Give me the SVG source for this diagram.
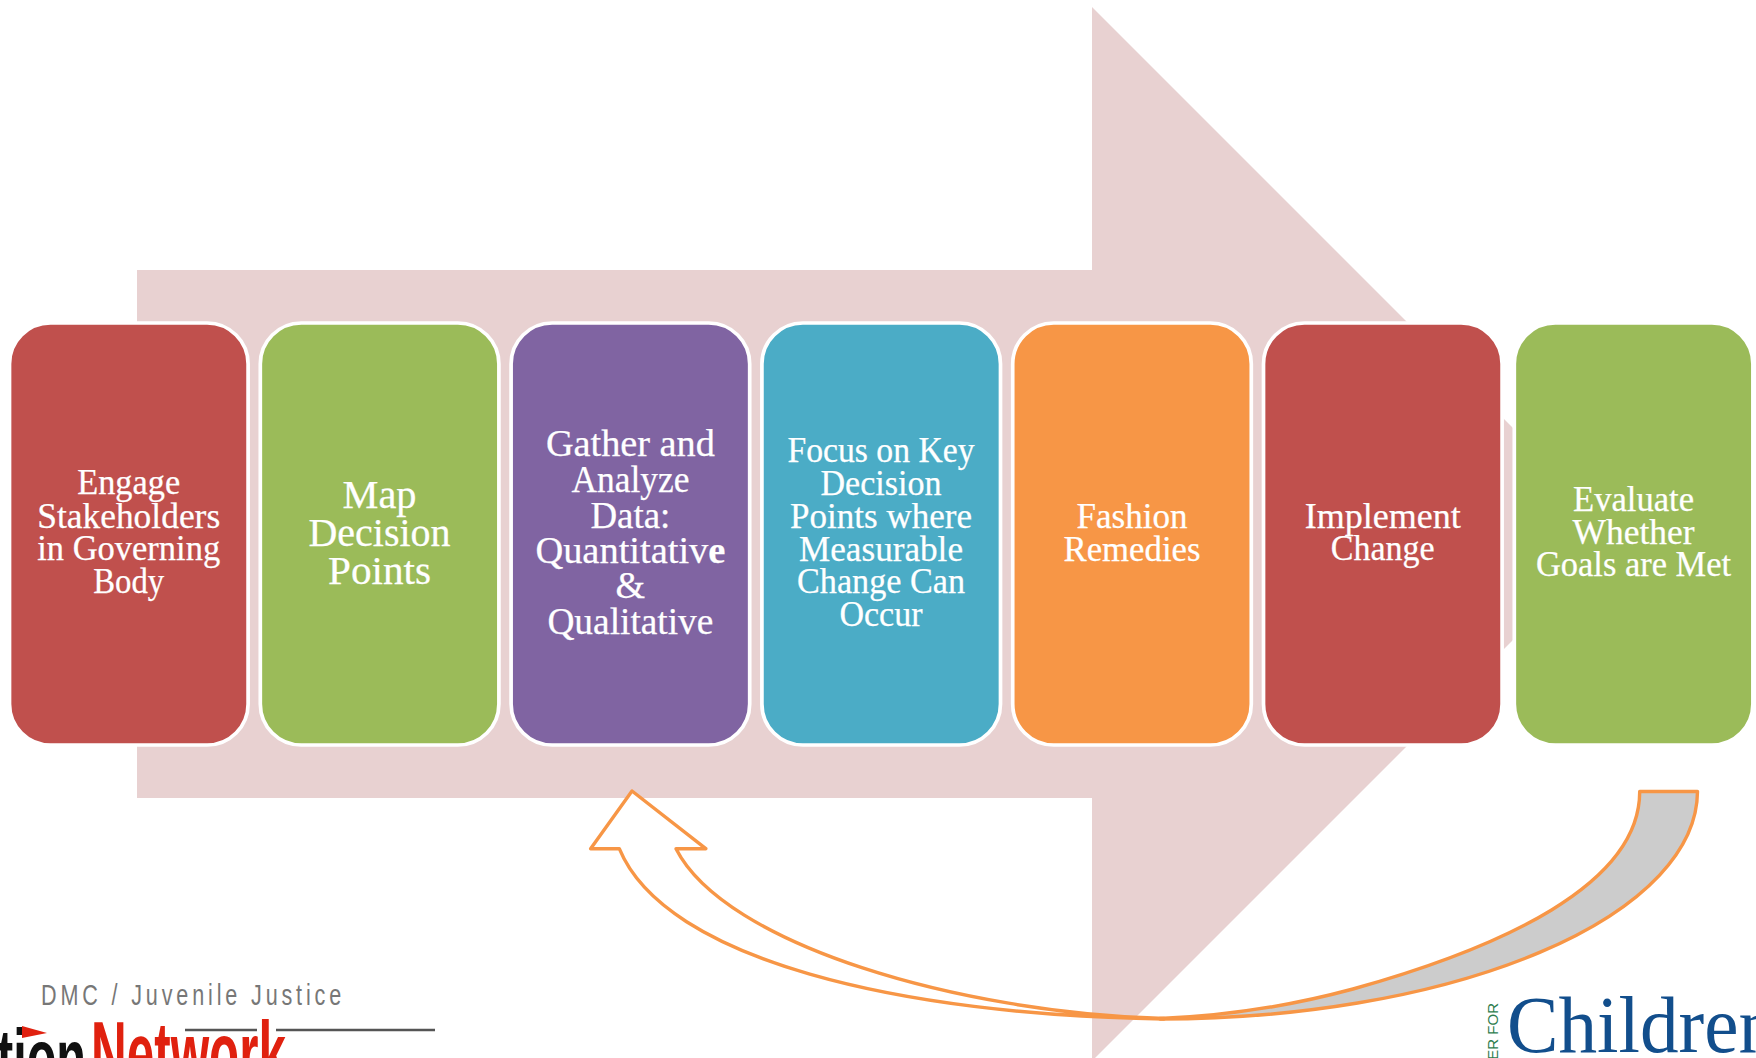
<svg xmlns="http://www.w3.org/2000/svg" width="1756" height="1058" viewBox="0 0 1756 1058">
<style>
.box{stroke:#fff;stroke-width:3.7}
.t{font-family:"Liberation Serif",serif;fill:#fff;text-anchor:middle;font-size:35px;stroke:#fff;stroke-width:.25;transform:translateY(1px)}
.big{font-size:40px}
.mid{font-size:38px}
.fb{stroke:#f79646;stroke-width:3.4;stroke-linejoin:round}
</style>
<rect width="1756" height="1058" fill="#fff"/>
<g id="big-arrow"><path d="M137 270H1092V7L1619 534L1092 1061V798H137Z" fill="#e8d1d1"/></g>
<g id="logo-left">
<text x="41" y="1005" transform="translate(41 0) scale(.72 1) translate(-41 0)" textLength="417" lengthAdjust="spacing" font-family="'Liberation Sans',sans-serif" font-size="30" fill="#777">DMC / Juvenile Justice</text>
<text x="-3" y="1085" textLength="89" lengthAdjust="spacingAndGlyphs" font-family="'Liberation Sans',sans-serif" font-weight="700" font-size="80" fill="#111">tion</text>
<text x="91" y="1085" textLength="195" lengthAdjust="spacingAndGlyphs" font-family="'Liberation Sans',sans-serif" font-weight="700" font-size="90" fill="#e0210f">Network</text>
<path d="M22 1026L47 1033L22 1038Z" fill="#e0210f"/>
<path d="M185 1030H257M276 1030H435" stroke="#555" stroke-width="2.4" fill="none"/>
</g>
<g id="logo-right">
<text x="1507" y="1052" textLength="270" lengthAdjust="spacingAndGlyphs" font-family="'Liberation Serif',serif" font-size="80" fill="#124e8c">Children</text>
<text transform="translate(1498 1003) rotate(-90)" text-anchor="end" font-family="'Liberation Sans',sans-serif" font-size="15" fill="#2e7d4f">ER FOR</text>
</g>
<g id="connectors">
<path class="fb" fill="#ccc" d="M1639.7 791.5H1697.5A537.5 228 0 0 1 1160 1019V1018.5C1225 1016 1290 1006 1353 989C1500 948 1640 885 1639.7 791.5Z"/>
<path class="fb" fill="#fff" d="M632 791L705.8 848.7H676C725 945 960 1013 1164 1018.5V1019C900 1015 665 960 619.3 848.7H590.6Z"/>
</g>
<g id="node-1"><rect class="box" x="9.5" y="323" width="238.6" height="422" rx="41" fill="#c0504d"/>
<text class="t" x="128.7" y="493" textLength="103" lengthAdjust="spacingAndGlyphs">Engage</text>
<text class="t" x="128.7" y="526.7" textLength="183" lengthAdjust="spacingAndGlyphs">Stakeholders</text>
<text class="t" x="128.7" y="559.3" textLength="183" lengthAdjust="spacingAndGlyphs">in Governing</text>
<text class="t" x="128.7" y="591.7" textLength="71" lengthAdjust="spacingAndGlyphs">Body</text></g>
<g id="node-2"><rect class="box" x="260.3" y="323" width="238.6" height="422" rx="41" fill="#9bbb59"/>
<text class="t big" x="379.5" y="506.7" textLength="74" lengthAdjust="spacingAndGlyphs">Map</text>
<text class="t big" x="379.5" y="545" textLength="142" lengthAdjust="spacingAndGlyphs">Decision</text>
<text class="t big" x="379.5" y="582.7" textLength="103" lengthAdjust="spacingAndGlyphs">Points</text></g>
<g id="node-3"><rect class="box" x="511.1" y="323" width="238.6" height="422" rx="41" fill="#8064a2"/>
<text class="t mid" x="630.4" y="455" textLength="169" lengthAdjust="spacingAndGlyphs">Gather and</text>
<text class="t mid" x="630.4" y="490.7" textLength="118" lengthAdjust="spacingAndGlyphs">Analyze</text>
<text class="t mid" x="630.4" y="526.7" textLength="80" lengthAdjust="spacingAndGlyphs">Data:</text>
<text class="t mid" x="630.4" y="562.3" textLength="190" lengthAdjust="spacingAndGlyphs">Quantitativ<tspan font-weight="700">e</tspan></text>
<text class="t mid" x="630.4" y="596.7">&amp;</text>
<text class="t mid" x="630.4" y="632.7" textLength="166" lengthAdjust="spacingAndGlyphs">Qualitative</text></g>
<g id="node-4"><rect class="box" x="761.9" y="323" width="238.6" height="422" rx="41" fill="#4bacc6"/>
<text class="t" x="881" y="460.7" textLength="187" lengthAdjust="spacingAndGlyphs">Focus on Key</text>
<text class="t" x="881" y="494" textLength="121" lengthAdjust="spacingAndGlyphs">Decision</text>
<text class="t" x="881" y="526.7" textLength="182" lengthAdjust="spacingAndGlyphs">Points where</text>
<text class="t" x="881" y="560" textLength="164" lengthAdjust="spacingAndGlyphs">Measurable</text>
<text class="t" x="881" y="591.7" textLength="168" lengthAdjust="spacingAndGlyphs">Change Can</text>
<text class="t" x="881" y="625" textLength="83" lengthAdjust="spacingAndGlyphs">Occur</text></g>
<g id="node-5"><rect class="box" x="1012.7" y="323" width="238.6" height="422" rx="41" fill="#f79646"/>
<text class="t" x="1132" y="526.7" textLength="111" lengthAdjust="spacingAndGlyphs">Fashion</text>
<text class="t" x="1132" y="560" textLength="137" lengthAdjust="spacingAndGlyphs">Remedies</text></g>
<g id="node-6"><rect class="box" x="1263.5" y="323" width="238.6" height="422" rx="41" fill="#c0504d"/>
<text class="t" x="1382.7" y="526.7" textLength="156" lengthAdjust="spacingAndGlyphs">Implement</text>
<text class="t" x="1382.7" y="559.3" textLength="104" lengthAdjust="spacingAndGlyphs">Change</text></g>
<g id="node-7"><rect class="box" x="1514.3" y="323" width="238.6" height="422" rx="41" fill="#9bbb59"/>
<text class="t" x="1633.5" y="510" textLength="121" lengthAdjust="spacingAndGlyphs">Evaluate</text>
<text class="t" x="1633.5" y="542.7" textLength="122" lengthAdjust="spacingAndGlyphs">Whether</text>
<text class="t" x="1633.5" y="575" textLength="195" lengthAdjust="spacingAndGlyphs">Goals are Met</text></g>
</svg>
